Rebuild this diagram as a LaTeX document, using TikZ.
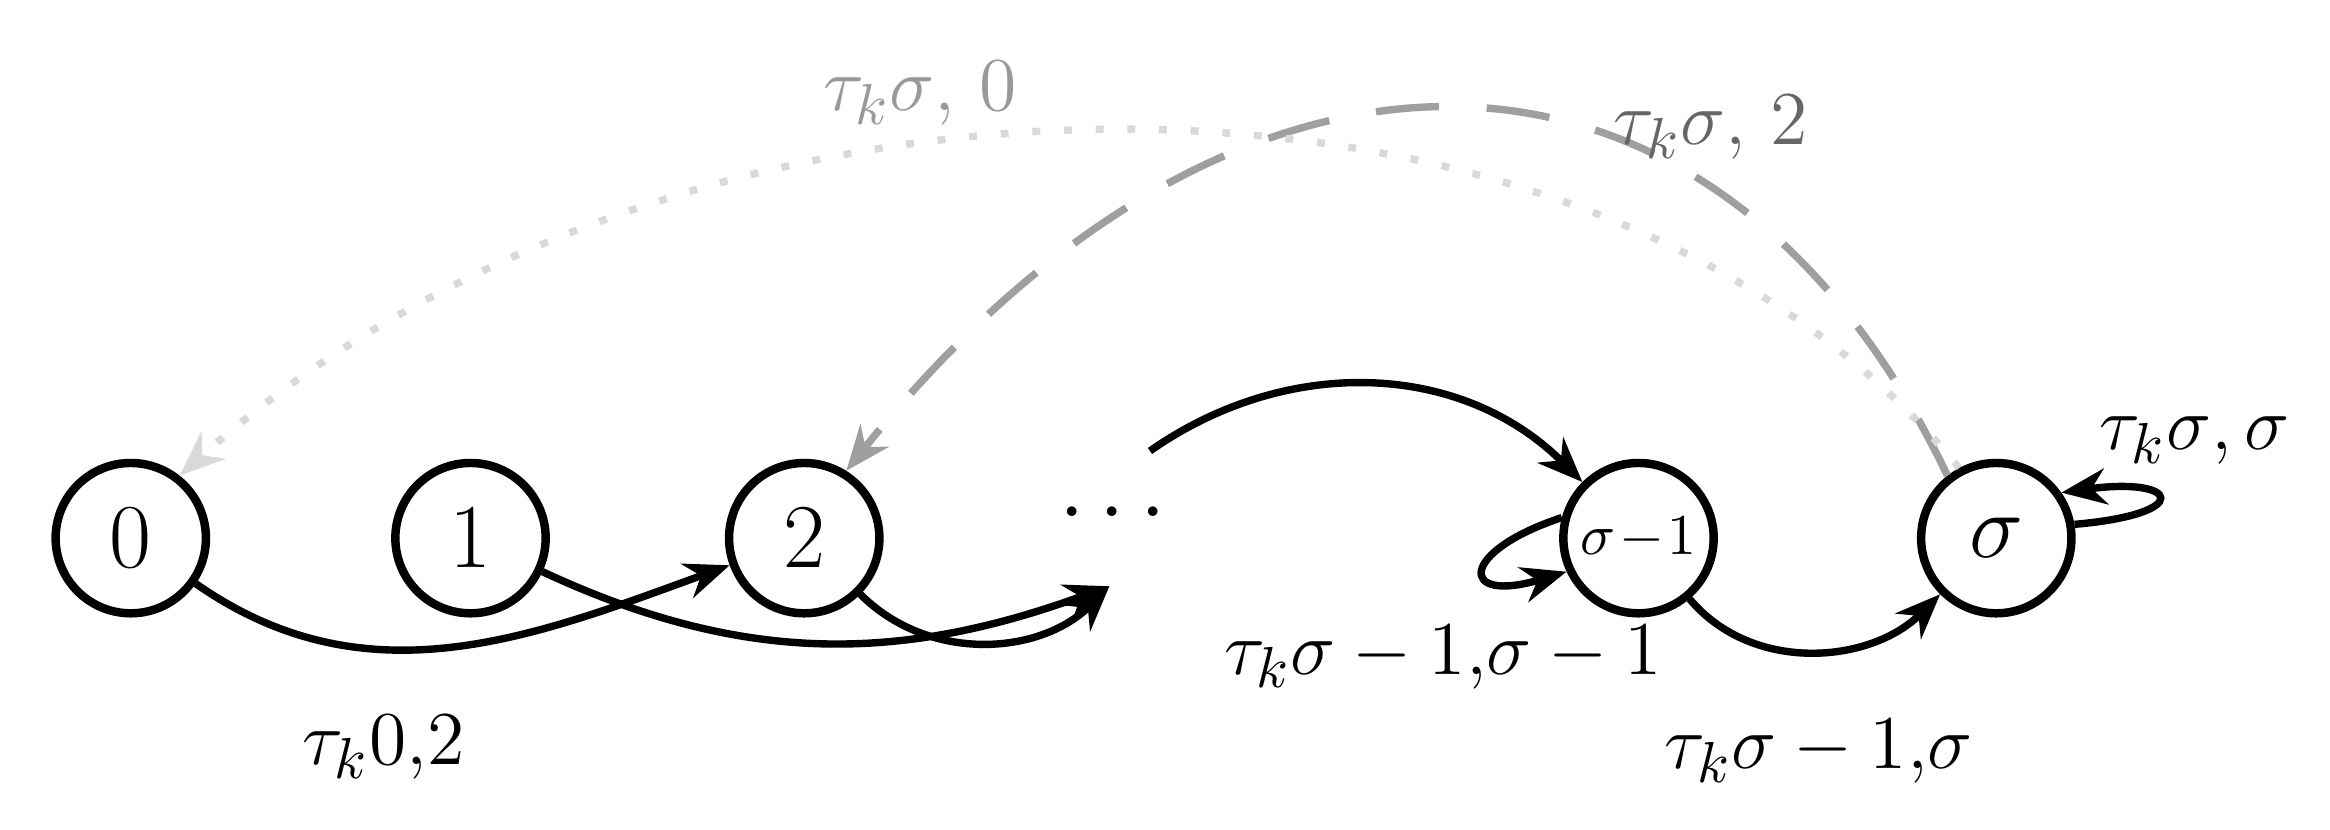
\documentclass[tikz,border=0pt]{standalone}
\usepackage{tikz}
\usetikzlibrary{positioning}
\usetikzlibrary {arrows.meta}
\begin{document}
\begin{tikzpicture}[
    state/.style={circle, draw, line width=1.6pt, minimum size=1cm, inner sep=0pt, font=\fontsize{16}{18}\selectfont},
    trans/.style={-{Stealth[length=3mm,width=2.4mm]}, line width=1.4pt},
    lbl/.style={font=\fontsize{15}{18}\selectfont}
]
    \useasboundingbox (0,0) rectangle (15.5,5.52);
    %% states
    \node[state] (s0) at (0.87,1.94) {$0$};
    \node[state] (s1) at (3.13,1.94) {$1$};
    \node[state] (s2) at (5.35,1.94) {$2$};
    \node[font=\fontsize{16}{18}\selectfont] (dots) at (7.40,2.10) {$\cdots$};
    \node[state, font=\fontsize{11}{13}\selectfont] (sm) at (10.90,1.94) {$\sigma\!-\!1$};
    \node[state] (ss) at (13.28,1.94) {$\sigma$};
    \coordinate (dotsin) at (7.38,1.62);
    \coordinate (dotsout) at (7.65,2.52);
    % forward transitions
    \draw[trans] (s0) to[out=-35,in=200] (s2);
    \draw[trans] (s1) to[out=-25,in=200] (dotsin);
    \draw[trans] (s2) to[out=-45,in=225] (dotsin);
    \draw[trans] (dotsout) to[out=35,in=135] (sm);
    \draw[trans] (sm) to[out=-50,in=225] (ss);
    % self loops
    \draw[trans] (sm.165) .. controls (9.7,1.85) and (9.7,1.5) .. (sm.205);
    \draw[trans] (ss.10) .. controls (14.6,2.1) and (14.5,2.35) .. (ss.35);
    % back transitions
    \draw[trans, gray!75, dashed, dash pattern=on 12pt off 9pt] (ss.128) .. controls (11.4,5.6) and (8.2,5.6) .. (s2.58);
    \draw[trans, gray!30, line width=1.4pt, dash pattern=on 1.5pt off 4.5pt] (ss.118) .. controls (10.6,5.4) and (4.6,5.4) .. (s0.52);
    % labels
    \node[lbl] (l02) at (2.55,0.55) {$\tau_k0{,}2$};
    \node[lbl] (lmm) at (9.60,1.15) {$\tau_k\sigma-1{,}\sigma-1$};
    \node[lbl] (lms) at (12.10,0.52) {$\tau_k\sigma-1{,}\sigma$};
    \node[lbl] (lss) at (14.60,2.59) {$\tau_k\sigma{,}\,\sigma$};
    \node[lbl, black!60] (ls2) at (11.38,4.67) {$\tau_k\sigma{,}\ 2$};
    \node[lbl, gray!80] (ls0) at (6.12,4.90) {$\tau_k\sigma{,}\ 0$};
\end{tikzpicture}
\end{document}
